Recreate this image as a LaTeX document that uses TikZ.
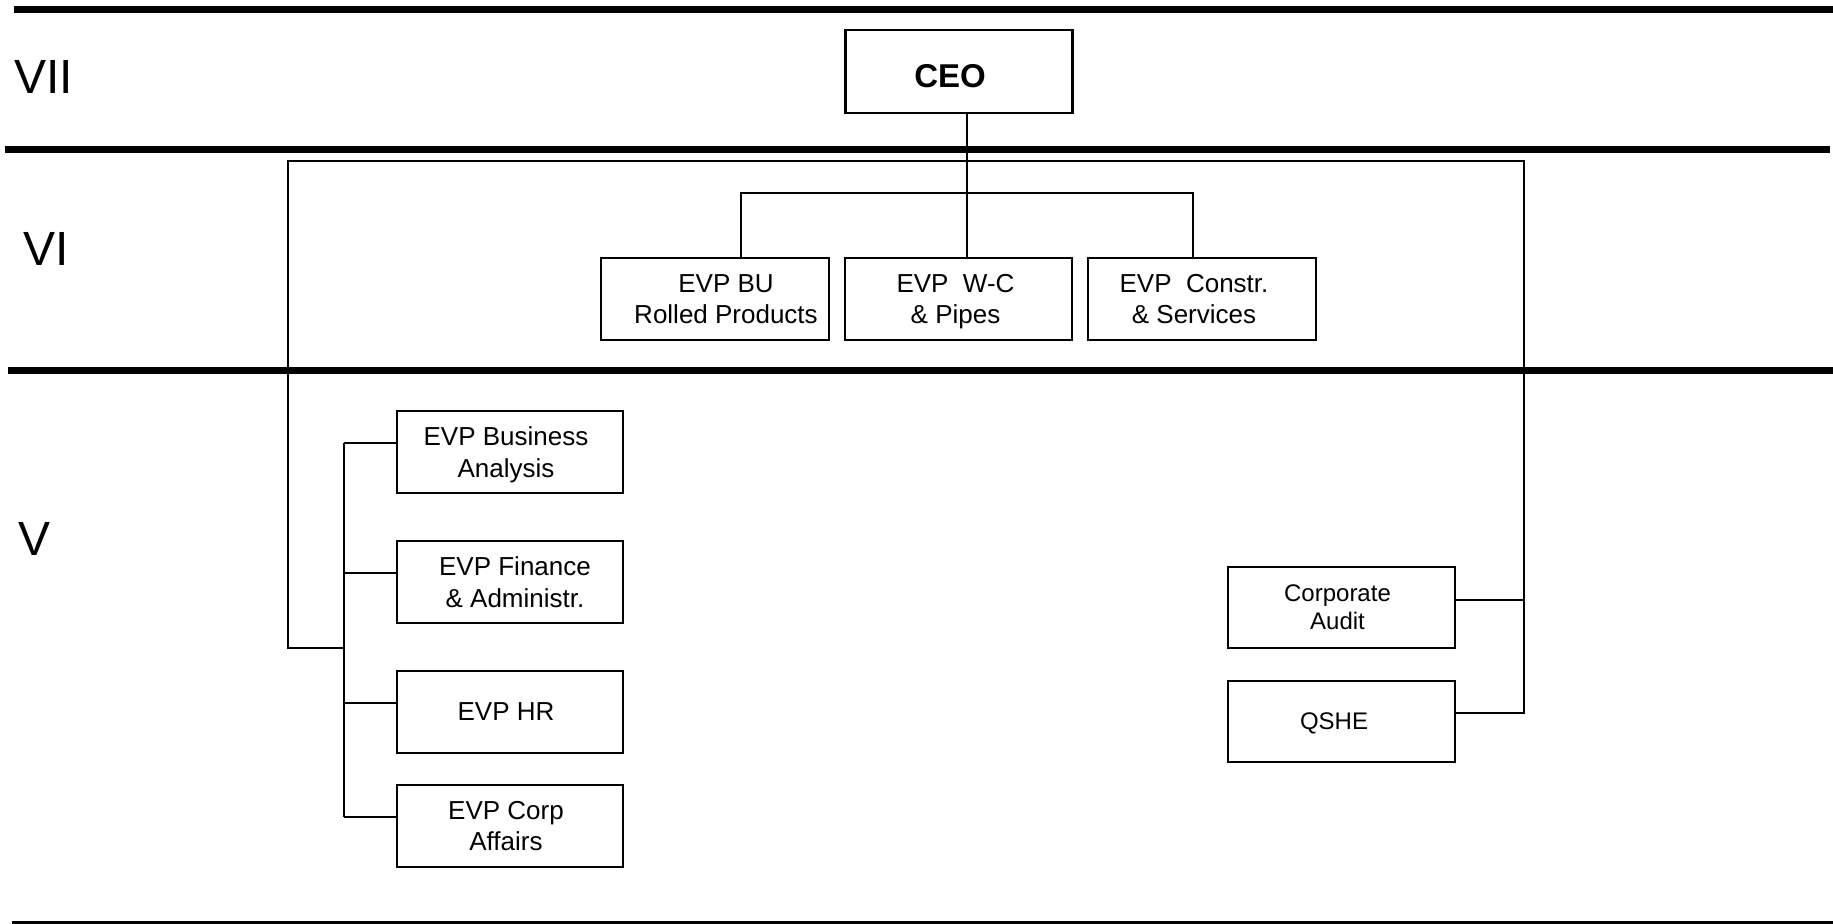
\documentclass[tikz,border=0pt]{standalone}
\usepackage{fontspec}
\setmainfont{Liberation Sans}
\usetikzlibrary{calc}
\begin{document}
\begin{tikzpicture}[x=0.5pt,y=-0.5pt,
  box/.style={draw, line width=1.2pt, minimum width=113.5pt, minimum height=41pt, inner sep=0pt, text depth=0pt, align=center, font=\fontsize{13}{15.85}\selectfont},
  sbox/.style={box, font=\fontsize{12}{14}\selectfont},
  conn/.style={line width=1pt},
  tier/.style={line width=3.75pt},
  lvl/.style={anchor=base west, inner sep=0pt, font=\fontsize{24}{28}\selectfont}]
\useasboundingbox (0,0) rectangle (1833,923);
% tier separators
\draw[tier] (14,9.5) -- (1833,9.5);
\draw[tier] (5,149.5) -- (1830,149.5);
\draw[tier] (8,370.5) -- (1833,370.5);
\draw[tier] (12,924.5) -- (1833,924.5);
% level labels
\node[lvl] (l7) at (14,93) {VII};
\node[lvl] (l6) at (22.7,265) {VI};
\node[lvl] (l5) at (18.3,555) {V};
% nodes
\node[box, minimum height=41.5pt, text height=15.8pt, font=\fontsize{16.5}{20}\selectfont\bfseries] (ceo) at (959,71.5) {CEO\hspace*{9pt}};
\node[box, minimum width=114pt] (bu) at (715,299) {\hspace*{11pt}EVP BU\\\hspace*{11pt}Rolled Products};
\node[box] (wc) at (958.5,299) {EVP~~W-C\hspace*{3pt}\\\& Pipes\hspace*{3pt}};
\node[box, minimum width=114pt] (cs) at (1202,299) {EVP~~Constr.\hspace*{8pt}\\\& Services\hspace*{8pt}};
\node[box, minimum width=113pt] (ba) at (510,452) {EVP Business\hspace*{4pt}\\Analysis\hspace*{4pt}};
\node[box, minimum width=113pt] (fa) at (510,582) {\hspace*{5pt}EVP Finance\\\hspace*{5pt}\& Administr.};
\node[box, minimum width=113pt] (hr) at (510,712) {EVP HR\hspace*{4pt}};
\node[box, minimum width=113pt] (ca) at (510,826) {EVP Corp\hspace*{4pt}\\Affairs\hspace*{4pt}};
\node[sbox, minimum height=40.5pt] (audit) at (1341.5,607.5) {Corporate\hspace*{4pt}\\Audit\hspace*{4pt}};
\node[sbox, minimum height=40.5pt] (qshe) at (1341.5,721.5) {QSHE\hspace*{7.5pt}};
% coordinates
\coordinate (ceoj) at (967,193.3);
\coordinate (bl) at (741,193.3);
\coordinate (br) at (1193,193.3);
\coordinate (tl) at (288,160.7);
\coordinate (tr) at (1523.5,160.7);
\coordinate (lb) at (288,648);
\coordinate (sp) at (344,0);
\coordinate (bat) at ($(ba.west)+(0,-9)$);
\coordinate (fat) at ($(fa.west)+(0,-9)$);
\coordinate (hrt) at ($(hr.west)+(0,-9)$);
\coordinate (cat) at ($(ca.west)+(0,-9)$);
\coordinate (aut) at ($(audit.east)+(0,-7.5)$);
\coordinate (qst) at ($(qshe.east)+(0,-8.5)$);
% connectors
\draw[conn] (ceo.south -| ceoj) -- (wc.north -| ceoj);
\draw[conn] (bu.north -| bl) |- (br) -- (cs.north -| br);
\draw[conn] (lb -| sp) -- (lb) -- (tl) -- (tr) |- (qst);
\draw[conn] (aut) -- (aut -| tr);
\draw[conn] (bat -| sp) -- (cat -| sp);
\draw[conn] (bat -| sp) -- (bat);
\draw[conn] (fat -| sp) -- (fat);
\draw[conn] (hrt -| sp) -- (hrt);
\draw[conn] (cat -| sp) -- (cat);
\end{tikzpicture}
\end{document}
